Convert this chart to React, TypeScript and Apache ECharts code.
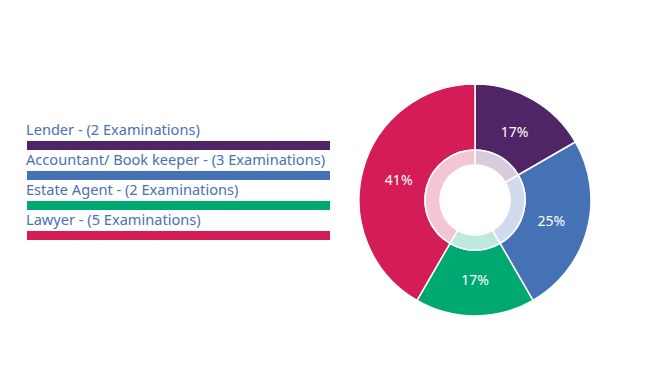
import React, { useEffect, useRef } from "react";
import * as echarts from "echarts";

const categories = [
  "Lender - (2 Examinations)",
  "Accountant/ Book keeper - (3 Examinations)",
  "Estate Agent - (2 Examinations)",
  "Lawyer - (5 Examinations)",
];
const names = ["Lender", "Accountant/ Book keeper", "Estate Agent", "Lawyer"];
const values = [2, 3, 2, 5];
const percentLabels = ["17%", "25%", "17%", "41%"];
const colors = ["#4f2566", "#4472b5", "#00a872", "#d41c56"];
const lightColors = ["#d8ccdc", "#d0dbed", "#bfe9dc", "#f4c6d5"];

export default function App() {
  const ref = useRef<HTMLDivElement>(null);
  useEffect(() => {
    if (!ref.current) return;
    const chart = echarts.init(ref.current, undefined, { renderer: "svg" });
    const legendGraphics: any[] = [];
    categories.forEach((c, i) => {
      legendGraphics.push({
        type: "text",
        left: 26,
        top: 121.5 + i * 30,
        style: {
          text: c,
          fill: "#4a70b6",
          font: "14.6px 'Noto Sans', sans-serif",
        },
      });
      legendGraphics.push({
        type: "rect",
        shape: { x: 27, y: 141 + i * 30, width: 303, height: 9 },
        style: { fill: colors[i] },
      });
    });
    chart.setOption({
      animation: false,
      backgroundColor: "#ffffff",
      graphic: legendGraphics,
      series: [
        {
          type: "pie",
          center: [475, 200],
          radius: [50, 116],
          startAngle: 90,
          clockwise: true,
          silent: true,
          itemStyle: { borderColor: "#ffffff", borderWidth: 1.5 },
          label: { show: false },
          labelLine: { show: false },
          data: names.map((n, i) => ({
            name: n,
            value: values[i],
            itemStyle: { color: colors[i] },
          })),
        },
        {
          type: "pie",
          center: [475, 200],
          radius: [35, 50],
          startAngle: 90,
          clockwise: true,
          silent: true,
          itemStyle: { borderColor: "#ffffff", borderWidth: 1.5 },
          label: { show: false },
          labelLine: { show: false },
          data: names.map((n, i) => ({
            name: n,
            value: values[i],
            itemStyle: { color: lightColors[i] },
          })),
        },
        {
          type: "pie",
          center: [475, 200],
          radius: [36, 116],
          startAngle: 90,
          clockwise: true,
          silent: true,
          z: 5,
          itemStyle: { color: "rgba(0,0,0,0)", borderWidth: 0 },
          label: {
            show: true,
            position: "inside",
            formatter: (p: any) => percentLabels[p.dataIndex],
            color: "#ffffff",
            fontSize: 14,
            fontFamily: "'Noto Sans', sans-serif",
          },
          labelLine: { show: false },
          data: names.map((n, i) => ({ name: n, value: values[i] })),
        },
      ],
    });
    return () => chart.dispose();
  }, []);
  return (
    <div
      ref={ref}
      style={{ position: "absolute", left: 0, top: 0, width: 669, height: 376 }}
    />
  );
}
